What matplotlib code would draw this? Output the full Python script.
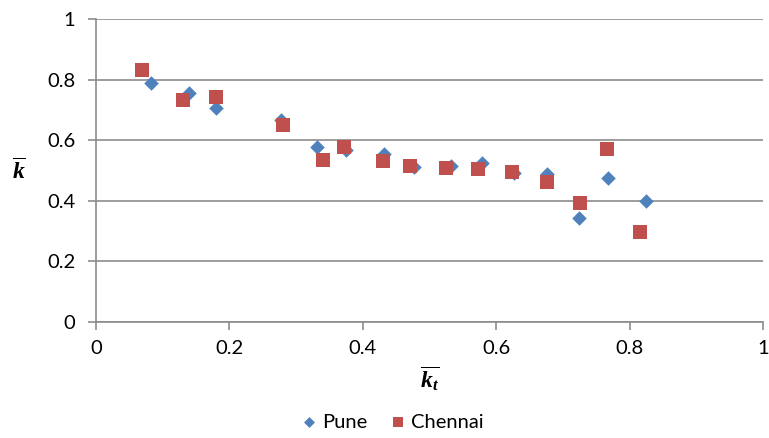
import matplotlib
matplotlib.use("Agg")
import matplotlib.pyplot as plt

plt.rcParams['font.family'] = ['Lato', 'DejaVu Sans']
plt.rcParams['mathtext.fontset'] = 'custom'
plt.rcParams['mathtext.bf'] = 'Liberation Serif:bold:italic'
plt.rcParams['mathtext.it'] = 'Liberation Serif:italic'
plt.rcParams['mathtext.rm'] = 'Liberation Serif'

# Mean clearness index vs mean diffuse fraction
pune_kt = [0.082, 0.139, 0.180, 0.278, 0.331, 0.375, 0.432, 0.477, 0.532, 0.578,
           0.626, 0.676, 0.724, 0.768, 0.824]
pune_k = [0.788, 0.755, 0.705, 0.666, 0.577, 0.567, 0.553, 0.512, 0.516, 0.525,
          0.492, 0.488, 0.342, 0.474, 0.399]

chennai_kt = [0.069, 0.131, 0.180, 0.281, 0.341, 0.372, 0.431, 0.471, 0.524, 0.573,
              0.624, 0.676, 0.726, 0.766, 0.815]
chennai_k = [0.833, 0.732, 0.743, 0.650, 0.534, 0.578, 0.531, 0.515, 0.507, 0.503,
             0.496, 0.460, 0.391, 0.571, 0.297]

x_ticks = [0, 0.2, 0.4, 0.6, 0.8, 1]
y_ticks = [0, 0.2, 0.4, 0.6, 0.8, 1]

fig = plt.figure(figsize=(7.69, 4.38), dpi=100)
ax = fig.add_axes([96 / 769, 1 - 321.7 / 438, 667 / 769, (321.7 - 19) / 438])

grid_c = '#8c8c8c'
ax.scatter(pune_kt, pune_k, marker='D', s=55, color='#4F81BD', label='Pune',
           zorder=3, linewidths=0)
ax.scatter(chennai_kt, chennai_k, marker='s', s=110, color='#C0504D', label='Chennai',
           zorder=4, linewidths=0)

ax.set_xlim(0, 1)
ax.set_ylim(0, 1)
ax.set_xticks(x_ticks)
ax.set_yticks(y_ticks)
ax.set_xticklabels([f'{t:g}' for t in x_ticks])
ax.set_yticklabels([f'{t:g}' for t in y_ticks])
ax.yaxis.grid(True, color=grid_c, linewidth=1.2)
ax.set_axisbelow(True)
for side in ('top', 'right'):
    ax.spines[side].set_visible(False)
for side in ('left', 'bottom'):
    ax.spines[side].set_color(grid_c)
    ax.spines[side].set_linewidth(1.2)
ax.tick_params(axis='both', colors=grid_c, labelcolor='black', labelsize=14.5,
               length=6, width=1.2, direction='out')
ax.tick_params(axis='x', pad=7)
ax.tick_params(axis='y', pad=9)

ax.set_xlabel(r'$\overline{\mathbf{k}_{\mathbf{t}}}$', fontsize=17, labelpad=6)
ax.set_ylabel(r'$\overline{\mathbf{k}}$', fontsize=17, rotation=0, labelpad=20,
              va='center')

fig.legend(loc='center', ncol=2, frameon=False, fontsize=14.5,
           bbox_to_anchor=(0.51, 1 - 422 / 438), handletextpad=0.25,
           columnspacing=1.1, handlelength=0.8, markerscale=0.75)

fig.savefig('out.png', dpi=100)
